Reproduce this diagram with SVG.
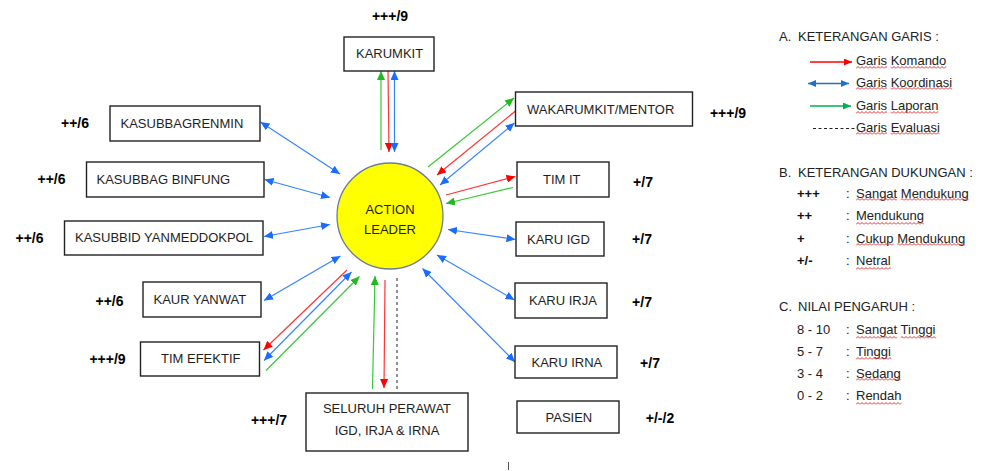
<svg xmlns="http://www.w3.org/2000/svg" width="988" height="471" viewBox="0 0 988 471">
  <style>
    .box{fill:#fff;stroke:#222;stroke-width:1.4}
    .lbl{font-family:"Liberation Sans",Arial,sans-serif;font-size:13px;fill:#1e1e1e}
    .score{font-family:"Liberation Sans",Arial,sans-serif;font-size:14px;font-weight:bold;fill:#000;text-anchor:middle}
    .cmd{stroke:#FF3535;stroke-width:1.2;fill:none;marker-end:url(#hR)}
    .koor{stroke:#3585FF;stroke-width:1.2;fill:none;marker-start:url(#hB);marker-end:url(#hB)}
    .lap{stroke:#38C838;stroke-width:1.2;fill:none;marker-end:url(#hG)}
    .eval{stroke:#555;stroke-width:1.3;stroke-dasharray:3 3;fill:none}
    .leg{font-family:"Liberation Sans",Arial,sans-serif;font-size:13px;fill:#222}
    .legb{font-family:"Liberation Sans",Arial,sans-serif;font-size:13px;font-weight:bold;fill:#111}
    .sq{fill:url(#squig)}
  </style>
  <defs>
    <marker id="hR" markerUnits="userSpaceOnUse" markerWidth="9" markerHeight="8" viewBox="0 0 9 8" refX="9" refY="4" orient="auto-start-reverse">
      <path d="M0,0 L9,4 L0,8 z" fill="#FF0000"/>
    </marker>
    <marker id="hB" markerUnits="userSpaceOnUse" markerWidth="9" markerHeight="8" viewBox="0 0 9 8" refX="9" refY="4" orient="auto-start-reverse">
      <path d="M0,0 L9,4 L0,8 z" fill="#1A6BFF"/>
    </marker>
    <marker id="hG" markerUnits="userSpaceOnUse" markerWidth="9" markerHeight="8" viewBox="0 0 9 8" refX="9" refY="4" orient="auto-start-reverse">
      <path d="M0,0 L9,4 L0,8 z" fill="#22B822"/>
    </marker>
    <marker id="lR" markerUnits="userSpaceOnUse" markerWidth="8" markerHeight="7" viewBox="0 0 8 7" refX="8" refY="3.5" orient="auto-start-reverse">
      <path d="M0,0 L8,3.5 L0,7 z" fill="#FF0000"/>
    </marker>
    <marker id="lB" markerUnits="userSpaceOnUse" markerWidth="8" markerHeight="7" viewBox="0 0 8 7" refX="8" refY="3.5" orient="auto-start-reverse">
      <path d="M0,0 L8,3.5 L0,7 z" fill="#1F70C8"/>
    </marker>
    <marker id="lG" markerUnits="userSpaceOnUse" markerWidth="8" markerHeight="7" viewBox="0 0 8 7" refX="8" refY="3.5" orient="auto-start-reverse">
      <path d="M0,0 L8,3.5 L0,7 z" fill="#00B050"/>
    </marker>
    <!-- spell-check style wavy underline -->
    <pattern id="squig" patternUnits="userSpaceOnUse" width="4" height="3">
      <path d="M0,2.5 L2,0.5 L4,2.5" fill="none" stroke="#E53030" stroke-width="1"/>
    </pattern>
  </defs>

  <!-- connectors -->
  <g id="connectors">
    <!-- KARUMKIT -->
    <line class="lap" x1="381" y1="150" x2="381" y2="71"/>
    <line class="cmd" x1="388" y1="71" x2="389" y2="152"/>
    <line class="koor" x1="394.5" y1="71" x2="394.5" y2="152"/>
    <!-- WAKARUMKIT/MENTOR -->
    <line class="lap" x1="428" y1="167" x2="514" y2="98"/>
    <line class="cmd" x1="515.5" y1="111" x2="437" y2="175"/>
    <line class="koor" x1="440" y1="185" x2="514.5" y2="123"/>
    <!-- TIM IT -->
    <line class="cmd" x1="446" y1="195" x2="515.5" y2="176.5"/>
    <line class="lap" x1="513" y1="187.5" x2="446" y2="203.5"/>
    <!-- KARU IGD / IRJA / IRNA -->
    <line class="koor" x1="448" y1="229.5" x2="515.5" y2="239.5"/>
    <line class="koor" x1="437" y1="255" x2="514.5" y2="300"/>
    <line class="koor" x1="422.5" y1="268.5" x2="515" y2="362"/>
    <!-- left column -->
    <line class="koor" x1="260.5" y1="122" x2="340" y2="174"/>
    <line class="koor" x1="264.5" y1="179.5" x2="330" y2="197.5"/>
    <line class="koor" x1="264" y1="236.5" x2="330" y2="224.5"/>
    <line class="koor" x1="264" y1="300.5" x2="340.5" y2="256"/>
    <!-- TIM EFEKTIF -->
    <line class="cmd" x1="347" y1="270" x2="263.5" y2="350"/>
    <line class="koor" x1="351.5" y1="272" x2="264" y2="360.5"/>
    <line class="lap" x1="266" y1="370.5" x2="359.5" y2="276.5"/>
    <!-- SELURUH PERAWAT -->
    <line class="lap" x1="372.5" y1="389" x2="375" y2="276"/>
    <line class="cmd" x1="385" y1="280" x2="384" y2="388"/>
    <line class="eval" x1="397" y1="278" x2="397" y2="389"/>
  </g>

  <!-- central node -->
  <g id="action-leader">
    <circle cx="390" cy="216" r="53" fill="#FFFF00" stroke="#6A7D94" stroke-width="1.3"/>
    <text class="lbl" x="390" y="214" text-anchor="middle">ACTION</text>
    <text class="lbl" x="390" y="234" text-anchor="middle">LEADER</text>
  </g>

  <g id="karumkit">
    <rect class="box" x="344" y="37" width="90" height="34"/>
    <text class="lbl" x="356" y="57.5">KARUMKIT</text>
    <text class="score" x="390" y="21">+++/9</text>
  </g>
  <g id="wakarumkit">
    <rect class="box" x="515.5" y="92" width="177" height="34"/>
    <text class="lbl" x="527" y="113.5">WAKARUMKIT/MENTOR</text>
    <text class="score" x="728" y="118">+++/9</text>
  </g>
  <g id="tim-it">
    <rect class="box" x="517" y="162" width="92" height="35"/>
    <text class="lbl" x="543" y="183.5">TIM IT</text>
    <text class="score" x="643" y="187">+/7</text>
  </g>
  <g id="karu-igd">
    <rect class="box" x="516" y="222" width="88" height="34"/>
    <text class="lbl" x="527" y="243.5">KARU IGD</text>
    <text class="score" x="642" y="244">+/7</text>
  </g>
  <g id="karu-irja">
    <rect class="box" x="515" y="283" width="92" height="35"/>
    <text class="lbl" x="529" y="304.5">KARU IRJA</text>
    <text class="score" x="642" y="306.5">+/7</text>
  </g>
  <g id="karu-irna">
    <rect class="box" x="515" y="346" width="102" height="32"/>
    <text class="lbl" x="531.5" y="366.5">KARU IRNA</text>
    <text class="score" x="650" y="368">+/7</text>
  </g>
  <g id="pasien">
    <rect class="box" x="517" y="401" width="102" height="32"/>
    <text class="lbl" x="545.5" y="422">PASIEN</text>
    <text class="score" x="660" y="422.5">+/-/2</text>
  </g>
  <g id="seluruh-perawat">
    <rect class="box" x="306" y="393" width="162" height="58"/>
    <text class="lbl" x="387" y="413" text-anchor="middle">SELURUH PERAWAT</text>
    <text class="lbl" x="387" y="434.5" text-anchor="middle">IGD, IRJA &amp; IRNA</text>
    <text class="score" x="269" y="425">+++/7</text>
  </g>
  <g id="kasubbagrenmin">
    <rect class="box" x="110" y="106" width="150" height="35"/>
    <text class="lbl" x="120.5" y="127.5">KASUBBAGRENMIN</text>
    <text class="score" x="75" y="127.5">++/6</text>
  </g>
  <g id="kasubbag-binfung">
    <rect class="box" x="86.5" y="162" width="177.5" height="35"/>
    <text class="lbl" x="96.5" y="183.5">KASUBBAG BINFUNG</text>
    <text class="score" x="51.5" y="183.5">++/6</text>
  </g>
  <g id="kasubbid-yanmeddokpol">
    <rect class="box" x="64.5" y="221" width="198.5" height="34"/>
    <text class="lbl" x="75" y="242">KASUBBID YANMEDDOKPOL</text>
    <text class="score" x="29.5" y="242.5">++/6</text>
  </g>
  <g id="kaur-yanwat">
    <rect class="box" x="143" y="282" width="118" height="35"/>
    <text class="lbl" x="153.5" y="303.5">KAUR YANWAT</text>
    <text class="score" x="109.5" y="305.5">++/6</text>
  </g>
  <g id="tim-efektif">
    <rect class="box" x="140.5" y="342" width="119" height="34"/>
    <text class="lbl" x="161" y="363">TIM EFEKTIF</text>
    <text class="score" x="107.5" y="363.5">+++/9</text>
  </g>

  <!-- legend -->
  <g id="legend">
    <text class="leg" x="779" y="41">A.</text>
    <text class="leg" x="798" y="41">KETERANGAN GARIS :</text>
    <line x1="810" y1="62" x2="852" y2="62" stroke="#FF0000" stroke-width="1.3" marker-end="url(#lR)"/>
    <text class="leg" x="856" y="65">Garis Komando</text>
    <line x1="808" y1="83.5" x2="849" y2="83.5" stroke="#1F70C8" stroke-width="1.3" marker-start="url(#lB)" marker-end="url(#lB)"/>
    <text class="leg" x="856" y="87">Garis Koordinasi</text>
    <line x1="810" y1="106" x2="851" y2="106" stroke="#00B050" stroke-width="1.3" marker-end="url(#lG)"/>
    <text class="leg" x="856" y="109.5">Garis Laporan</text>
    <line x1="813" y1="128.5" x2="855" y2="128.5" stroke="#222" stroke-width="1" stroke-dasharray="3 2.5"/>
    <text class="leg" x="856" y="132">Garis Evaluasi</text>

    <text class="leg" x="779" y="177">B.</text>
    <text class="leg" x="798" y="177">KETERANGAN DUKUNGAN :</text>
    <text class="legb" x="797" y="198">+++</text>
    <text class="leg" x="846" y="198">:</text>
    <text class="leg" x="856" y="198">Sangat Mendukung</text>
    <text class="legb" x="797" y="220">++</text>
    <text class="leg" x="846" y="220">:</text>
    <text class="leg" x="856" y="220">Mendukung</text>
    <text class="legb" x="797" y="242.5">+</text>
    <text class="leg" x="846" y="242.5">:</text>
    <text class="leg" x="856" y="242.5">Cukup Mendukung</text>
    <text class="legb" x="797" y="265">+/-</text>
    <text class="leg" x="846" y="265">:</text>
    <text class="leg" x="856" y="265">Netral</text>

    <text class="leg" x="779" y="311">C.</text>
    <text class="leg" x="798" y="311">NILAI PENGARUH :</text>
    <text class="leg" x="797" y="334">8 - 10</text>
    <text class="leg" x="846" y="334">:</text>
    <text class="leg" x="856" y="334">Sangat Tinggi</text>
    <text class="leg" x="797" y="356">5 - 7</text>
    <text class="leg" x="846" y="356">:</text>
    <text class="leg" x="856" y="356">Tinggi</text>
    <text class="leg" x="797" y="378">3 - 4</text>
    <text class="leg" x="846" y="378">:</text>
    <text class="leg" x="856" y="378">Sedang</text>
    <text class="leg" x="797" y="400">0 - 2</text>
    <text class="leg" x="846" y="400">:</text>
    <text class="leg" x="856" y="400">Rendah</text>

    <!-- wavy underlines -->
    <rect class="sq" x="856" y="66" width="31" height="3"/>
    <rect class="sq" x="890.6" y="66" width="55.7" height="3"/>
    <rect class="sq" x="856" y="87" width="31" height="3"/>
    <rect class="sq" x="890.6" y="87" width="61.4" height="3"/>
    <rect class="sq" x="856" y="111" width="31" height="3"/>
    <rect class="sq" x="890.6" y="111" width="47.7" height="3"/>
    <rect class="sq" x="856" y="132" width="31" height="3"/>
    <rect class="sq" x="890.6" y="132" width="49.1" height="3"/>
    <rect class="sq" x="856" y="198" width="41.2" height="3"/>
    <rect class="sq" x="900.8" y="198" width="67.9" height="3"/>
    <rect class="sq" x="856" y="222" width="67.9" height="3"/>
    <rect class="sq" x="856" y="243" width="37.6" height="3"/>
    <rect class="sq" x="897.2" y="243" width="67.9" height="3"/>
    <rect class="sq" x="856" y="267" width="34.7" height="3"/>
    <rect class="sq" x="856" y="336" width="41.2" height="3"/>
    <rect class="sq" x="900.8" y="336" width="35.4" height="3"/>
    <rect class="sq" x="856" y="357" width="35.4" height="3"/>
    <rect class="sq" x="856" y="378" width="44.8" height="3"/>
    <rect class="sq" x="856" y="402" width="45.5" height="3"/>
  </g>

  <!-- small vertical mark near the bottom edge -->
  <line x1="508.5" y1="462" x2="508.5" y2="470" stroke="#555" stroke-width="1"/>
</svg>
